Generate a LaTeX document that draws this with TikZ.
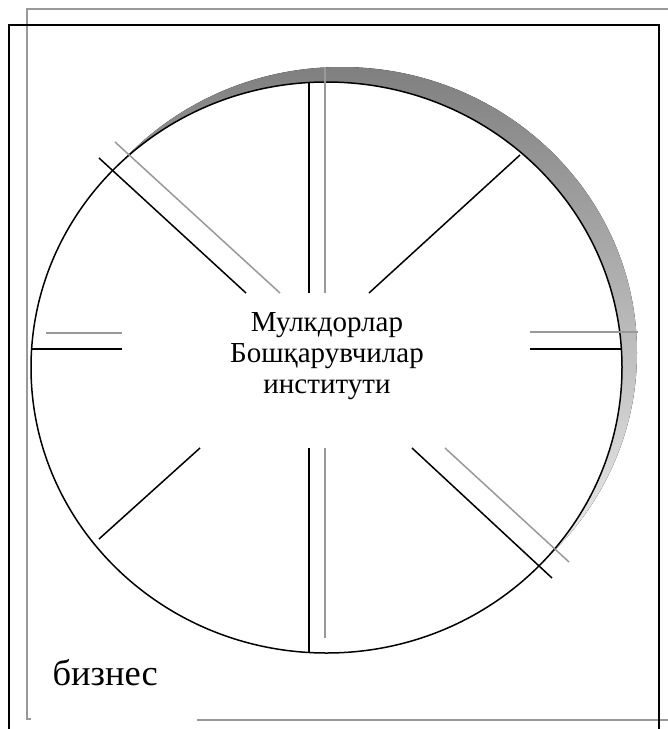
\documentclass[tikz,border=0pt]{standalone}
\usepackage{fontspec}
\setmainfont{Liberation Serif}
\usepackage{xcolor}
\usepackage{tikz}
\definecolor{shade}{HTML}{808080}
\definecolor{rule}{HTML}{999999}

\begin{document}
\begin{tikzpicture}[x=1pt,y=-1pt,
  frame/.style={draw=black,line width=1.5pt},
  gframe/.style={draw=rule,line width=1.5pt},
  spoke/.style={draw=black,line width=1.5pt},
  gspoke/.style={draw=rule,line width=1.5pt},
  wheel/.style={draw=black,line width=1.5pt,fill=white},
  hubtext/.style={font=\fontsize{29}{31}\selectfont,align=center},
  tagtext/.style={font=\fontsize{36.5}{40}\selectfont,anchor=base west}]
\useasboundingbox (0,0) rectangle (668,729);
% frames
\draw[gframe] (668,9) -- (27,9) -- (27,719) -- (31,719);
\draw[gframe] (197,720) -- (668,720);
\draw[frame] (9,729) -- (9,25) -- (659,25) -- (659,729);
% shadow + wheel
\fill[shade] (341.5,352.5) ellipse [x radius=295.5,y radius=285.5];
\draw[wheel] (326.5,367.5) ellipse [x radius=295.5,y radius=285.5];
% spokes
\draw[gspoke] (325,67)--(325,293); \draw[spoke] (309,83)--(309,293);
\draw[gspoke] (325,448)--(325,638); \draw[spoke] (309,448)--(309,653);
\draw[gspoke] (46,333)--(122,333); \draw[spoke] (31,349)--(122,349);
\draw[gspoke] (530,332)--(638,332); \draw[spoke] (530,349)--(622,349);
\draw[gspoke] (115,142)--(280,293); \draw[spoke] (99,158)--(246,293);
\draw[spoke] (369,293)--(520,155);
\draw[gspoke] (445,448)--(569,562); \draw[spoke] (412,448)--(552,578);
\draw[spoke] (200,448)--(99,539);
% texts
\node[hubtext] (hub) at (327,356) {Мулкдорлар\\Бошқарувчилар\\институти};
\node[tagtext] (biz) at (49,685) {бизнес};
\end{tikzpicture}
\end{document}
